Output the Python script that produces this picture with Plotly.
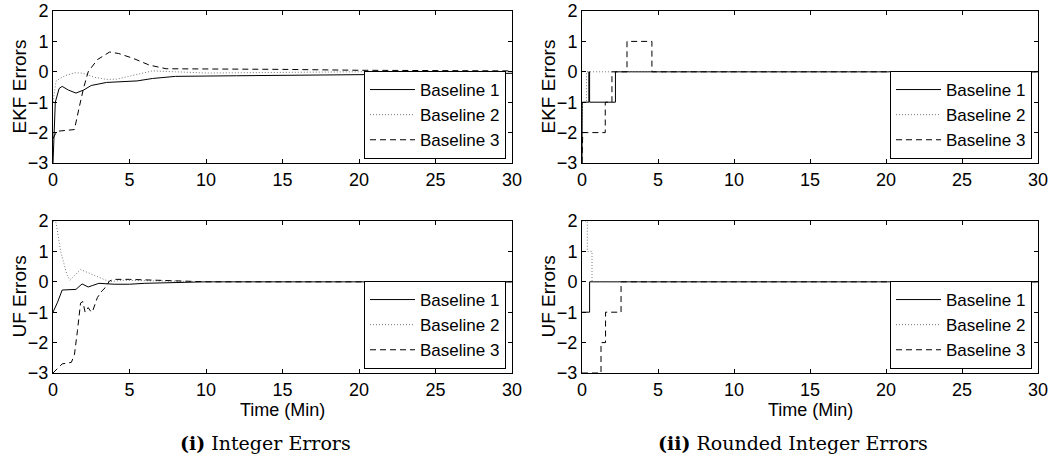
import plotly.graph_objects as go

# ---------------- data ----------------
# (i) Integer errors, EKF
ekf_t_b1 = [0, 0.15, 0.4, 0.6, 1.0, 1.5, 2.0, 2.5, 3.5, 5.0, 5.5, 6.5, 8.0, 12, 18, 25, 30]
ekf_b1 = [-3, -1.0, -0.55, -0.48, -0.6, -0.7, -0.6, -0.45, -0.35, -0.33, -0.3, -0.22, -0.15, -0.13, -0.1, -0.07, -0.05]
ekf_t_b2 = [0, 0.2, 0.8, 1.5, 2.0, 2.7, 3.5, 4.2, 5.2, 6.5, 8, 10, 15, 20, 30]
ekf_b2 = [-1.0, -0.3, -0.12, -0.03, -0.05, -0.18, -0.25, -0.24, -0.12, 0.03, 0.0, -0.04, -0.02, 0.0, 0.0]
ekf_t_b3 = [0, 0.2, 0.4, 1.4, 1.7, 2.0, 2.3, 2.9, 3.7, 4.3, 5.2, 6.3, 7.4, 10, 15, 20, 30]
ekf_b3 = [-2.2, -2.0, -1.95, -1.9, -1.2, -0.53, 0.0, 0.4, 0.65, 0.6, 0.45, 0.22, 0.1, 0.1, 0.08, 0.05, 0.03]

# (i) Integer errors, UF
uf_t_b1 = [0, 0.3, 0.6, 1.5, 1.9, 2.3, 2.6, 3.0, 4.0, 5.0, 6.0, 10, 30]
uf_b1 = [-1.0, -0.67, -0.27, -0.25, -0.07, -0.17, -0.12, -0.05, -0.08, -0.08, -0.05, 0.0, 0.0]
uf_t_b2 = [0, 0.2, 0.5, 0.9, 1.1, 1.8, 2.3, 3.0, 3.5, 3.7, 4.5, 7, 10, 30]
uf_b2 = [2.0, 1.95, 1.0, 0.25, 0.05, 0.4, 0.3, 0.14, 0.05, 0.0, 0.05, 0.03, 0.0, 0.0]
uf_t_b3 = [0, 0.6, 1.2, 1.4, 1.6, 1.8, 1.95, 2.1, 2.3, 2.5, 2.6, 2.9, 3.2, 3.4, 3.7, 4.0, 5.0, 6.5, 10, 30]
uf_b3 = [-3.0, -2.7, -2.65, -2.4, -1.6, -0.7, -0.65, -1.0, -0.85, -1.0, -0.95, -0.52, -0.3, -0.2, 0.03, 0.08, 0.08, 0.05, 0.0, 0.0]

# (ii) Rounded integer errors, EKF (step functions)
rekf_t_b1 = [0, 0.02, 0.45, 0.45, 0.5, 0.5, 2.2, 2.2, 30]
rekf_b1 = [-3, -1, -1, 0, 0, -1, -1, 0, 0]
rekf_t_b2 = [0, 0.02, 0.3, 0.3, 30]
rekf_b2 = [-3, -1, -1, 0, 0]
rekf_t_b3 = [0, 0.05, 1.53, 1.53, 1.97, 1.97, 2.96, 2.96, 4.6, 4.6, 30]
rekf_b3 = [-3, -2, -2, -1, -1, 0, 0, 1, 1, 0, 0]

# (ii) Rounded integer errors, UF (step functions)
ruf_t_b1 = [0, 0.5, 0.5, 30]
ruf_b1 = [-1, -1, 0, 0]
ruf_t_b2 = [0, 0.35, 0.35, 0.66, 0.66, 30]
ruf_b2 = [2, 2, 1, 1, 0, 0]
ruf_t_b3 = [0, 1.25, 1.25, 1.55, 1.55, 2.57, 2.57, 30]
ruf_b3 = [-3, -3, -2, -2, -1, -1, 0, 0]

series_names = ["Baseline 1", "Baseline 2", "Baseline 3"]
x_ticks = [0, 5, 10, 15, 20, 25, 30]
y_ticks = [-3, -2, -1, 0, 1, 2]
y_titles = ["EKF Errors", "UF Errors"]
x_title = "Time (Min)"
captions = ["<b>(i)</b> Integer Errors", "<b>(ii)</b> Rounded Integer Errors"]

# ---------------- figure ----------------
W, H = 1055, 459
FONT = "Liberation Sans, Arial, sans-serif"
styles = [
    dict(color="black", width=1, dash="solid"),
    dict(color="#777777", width=1, dash="1px,2px"),
    dict(color="black", width=1, dash="6px,4px"),
]

panels = [
    ("", [(ekf_t_b1, ekf_b1), (ekf_t_b2, ekf_b2), (ekf_t_b3, ekf_b3)], (53, 512), (11, 163), y_titles[0], False),
    ("2", [(rekf_t_b1, rekf_b1), (rekf_t_b2, rekf_b2), (rekf_t_b3, rekf_b3)], (582, 1038), (11, 163), y_titles[0], False),
    ("3", [(uf_t_b1, uf_b1), (uf_t_b2, uf_b2), (uf_t_b3, uf_b3)], (53, 512), (221, 373), y_titles[1], True),
    ("4", [(ruf_t_b1, ruf_b1), (ruf_t_b2, ruf_b2), (ruf_t_b3, ruf_b3)], (582, 1038), (221, 373), y_titles[1], True),
]

fig = go.Figure()
layout = dict(
    width=W, height=H,
    margin=dict(l=0, r=0, t=0, b=0, autoexpand=False),
    paper_bgcolor="white", plot_bgcolor="white",
    font=dict(family=FONT, size=17, color="black"),
    showlegend=True,
    annotations=[],
)

for i, (sfx, data, (x0, x1), (y0, y1), ytitle, show_xtitle) in enumerate(panels):
    legend_name = "legend" if i == 0 else f"legend{i+1}"
    for k, (tt, vv) in enumerate(data):
        fig.add_trace(go.Scatter(
            x=tt, y=vv, mode="lines", name=series_names[k],
            line=styles[k], xaxis="x" + sfx, yaxis="y" + sfx,
            legend=legend_name, showlegend=True,
        ))
    axis_common = dict(
        showline=True, linecolor="black", linewidth=1, mirror="ticks",
        ticks="inside", ticklen=4, tickcolor="black", showgrid=False,
        zeroline=False, automargin=False,
        tickfont=dict(family=FONT, size=18, color="black"),
    )
    layout["xaxis" + sfx] = dict(
        axis_common, domain=[x0 / W, x1 / W], range=[0, 30],
        tickvals=x_ticks, anchor="y" + sfx,
    )
    layout["yaxis" + sfx] = dict(
        axis_common, domain=[1 - y1 / H, 1 - y0 / H], range=[-3, 2],
        tickvals=y_ticks, anchor="x" + sfx,
    )
    # y-axis title
    layout["annotations"].append(dict(
        text=ytitle, textangle=-90, x=(x0 - 34.5) / W, y=1 - (y0 + y1) / 2 / H,
        xref="paper", yref="paper", xanchor="center", yanchor="middle",
        showarrow=False, font=dict(family=FONT, size=19, color="black"),
    ))
    if show_xtitle:
        layout["annotations"].append(dict(
            text=x_title, x=(x0 + x1) / 2 / W, y=1 - 410 / H,
            xref="paper", yref="paper", xanchor="center", yanchor="middle",
            showarrow=False, font=dict(family=FONT, size=18, color="black"),
        ))
    layout[legend_name] = dict(
        x=(x1 - 6) / W, y=1 - (y1 - 4) / H, xanchor="right", yanchor="bottom",
        bordercolor="black", borderwidth=1, bgcolor="white",
        font=dict(family=FONT, size=17, color="black"),
        itemwidth=45, tracegroupgap=0,
    )

for j, cap in enumerate(captions):
    layout["annotations"].append(dict(
        text=cap, x=[265, 793][j] / W, y=1 - 443 / H, xref="paper", yref="paper",
        xanchor="center", yanchor="middle", showarrow=False,
        font=dict(family="DejaVu Serif, Liberation Serif, serif", size=19, color="black"),
    ))

fig.update_layout(**layout)
fig.write_html("out.html", post_script="document.body.style.margin='0';",
               config={"displayModeBar": False})
